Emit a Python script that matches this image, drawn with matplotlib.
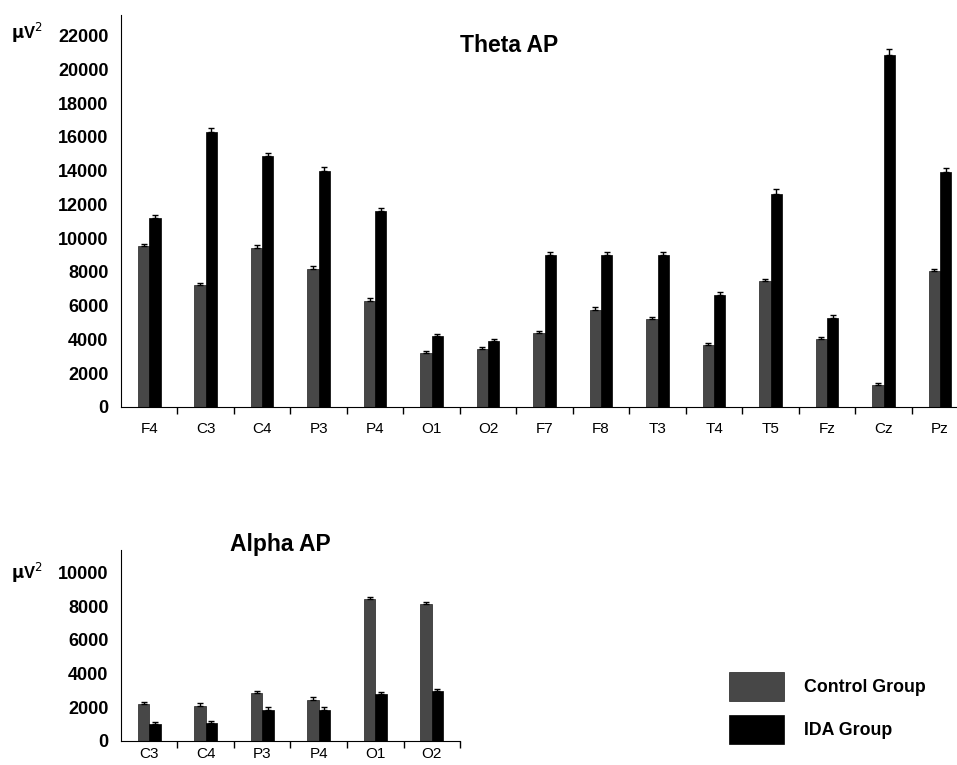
import numpy as np
import matplotlib
matplotlib.use('Agg')
import matplotlib.pyplot as plt
from matplotlib.ticker import FixedLocator

plt.rcParams['font.family'] = ['Liberation Sans', 'DejaVu Sans']

# theta absolute power
theta_sites = ['F4', 'C3', 'C4', 'P3', 'P4', 'O1', 'O2', 'F7', 'F8', 'T3', 'T4', 'T5', 'Fz', 'Cz', 'Pz']
theta_control = [9550, 7200, 9400, 8200, 6300, 3200, 3450, 4400, 5750, 5200, 3700, 7450, 4050, 1300, 8050]
theta_ida = [11200, 16300, 14850, 13950, 11600, 4200, 3900, 9000, 9000, 9000, 6650, 12600, 5300, 20850, 13900]
theta_control_err = [120, 150, 180, 180, 130, 120, 110, 130, 170, 120, 110, 130, 120, 140, 110]
theta_ida_err = [200, 250, 180, 250, 180, 150, 120, 170, 170, 170, 180, 320, 140, 330, 260]

# alpha absolute power
alpha_sites = ['C3', 'C4', 'P3', 'P4', 'O1', 'O2']
alpha_control = [2200, 2100, 2850, 2450, 8400, 8100]
alpha_ida = [1000, 1050, 1850, 1850, 2800, 2950]
alpha_control_err = [130, 130, 130, 130, 120, 130]
alpha_ida_err = [150, 160, 150, 150, 130, 160]

CONTROL_COLOR = '#474747'
IDA_COLOR = '#000000'
W = 0.2


def draw_panel(ax, sites, control, ida, control_err, ida_err, ymax, xmax, yticks, xpad):
    x = np.arange(len(sites))
    zeros = np.zeros(len(sites))
    ekw = dict(ecolor='black', elinewidth=1, capsize=2, capthick=1)
    b1 = ax.bar(x - W / 2, control, W, color=CONTROL_COLOR, edgecolor='#222222', linewidth=0.5,
                yerr=[zeros, control_err], error_kw=ekw)
    b2 = ax.bar(x + W / 2, ida, W, color=IDA_COLOR, edgecolor='black', linewidth=0.5,
                yerr=[zeros, ida_err], error_kw=ekw)
    ax.set_xlim(-0.5, xmax)
    ax.set_ylim(0, ymax)
    for s in ['top', 'right']:
        ax.spines[s].set_visible(False)
    # x ticks sit between the electrode groups, labels at the centres
    ax.xaxis.set_major_locator(FixedLocator(x))
    ax.set_xticklabels(sites, fontsize=11)
    ax.xaxis.set_minor_locator(FixedLocator(x + 0.5))
    ax.tick_params(axis='x', which='major', length=0, pad=xpad)
    ax.tick_params(axis='x', which='minor', length=5, width=1, direction='out')
    ax.yaxis.set_major_locator(FixedLocator(yticks))
    ax.tick_params(axis='y', length=0, pad=9, labelsize=13)
    for lbl in ax.get_yticklabels():
        lbl.set_fontweight('bold')
    return b1, b2


fig = plt.figure(figsize=(9.57, 7.65), dpi=100)

ax1 = fig.add_axes([0.1264, 0.468, 0.8736, 0.512])
draw_panel(ax1, theta_sites, theta_control, theta_ida, theta_control_err, theta_ida_err,
           23200, 14.3, np.arange(0, 22001, 2000), 11)
ax1.text(0.464, 0.923, 'Theta AP', transform=ax1.transAxes, ha='center', va='center',
         fontsize=16.5, fontweight='bold')
fig.text(0.012, 0.957, r'$\mathbf{\mu}$V$^2$', fontsize=12, fontweight='bold', va='center')

ax2 = fig.add_axes([0.1264, 0.0314, 0.3543, 0.2496])
b1, b2 = draw_panel(ax2, alpha_sites, alpha_control, alpha_ida, alpha_control_err, alpha_ida_err,
                    11320, 5.5, np.arange(0, 10001, 2000), 4)
ax2.text(0.469, 1.03, 'Alpha AP', transform=ax2.transAxes, ha='center', va='center',
         fontsize=16.5, fontweight='bold')
fig.text(0.012, 0.251, r'$\mathbf{\mu}$V$^2$', fontsize=12, fontweight='bold', va='center')

fig.legend([b1.patches[0], b2.patches[0]], ['Control Group', 'IDA Group'],
           loc='upper left', bbox_to_anchor=(0.762, 0.1215), bbox_transform=fig.transFigure,
           frameon=False, borderpad=0, borderaxespad=0, handlelength=3.1, handleheight=2.13,
           labelspacing=0.8, handletextpad=1.12, prop=dict(size=12.8, weight='bold'))

fig.savefig('out.png', dpi=100)
